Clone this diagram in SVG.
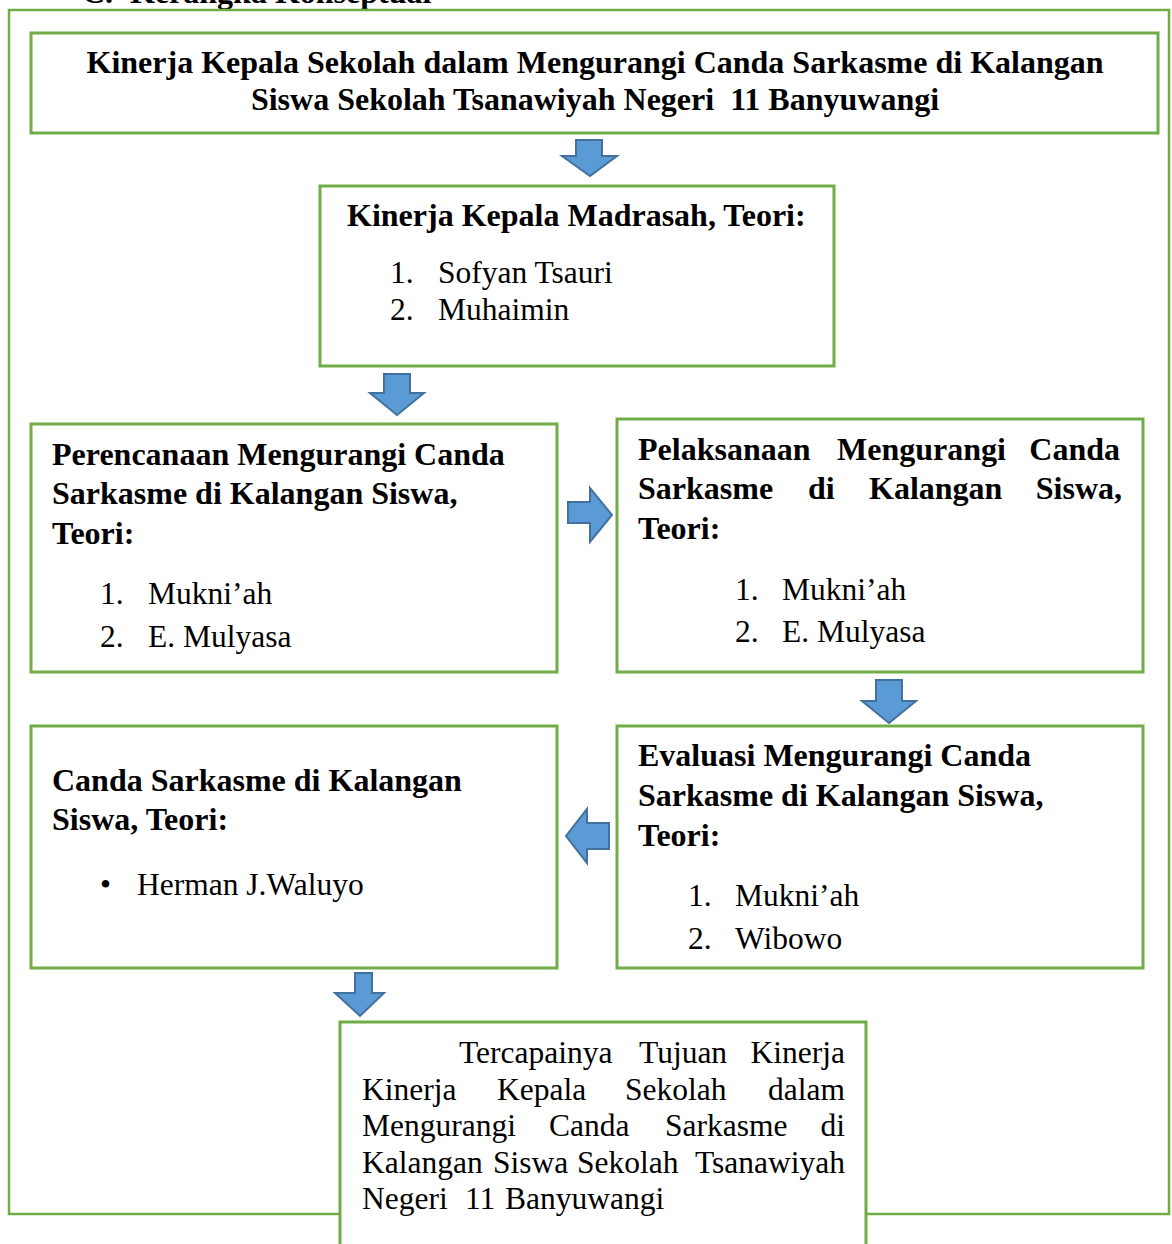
<svg xmlns="http://www.w3.org/2000/svg" width="1172" height="1244" viewBox="0 0 1172 1244">
<defs>
<style>
.box{fill:#fff;stroke:#70AD47;stroke-width:3}
.frame{fill:none;stroke:#70AD47;stroke-width:2.5}
.arr{fill:#5B9BD5;stroke:#41719C;stroke-width:2;stroke-linejoin:miter}
text{font-family:"Liberation Serif","Times New Roman",serif;font-size:31.5px;fill:#000}
.b{font-weight:bold;font-size:32px}
</style>
</defs>
<rect width="1172" height="1244" fill="#fff"/>
<text class="b" y="3"><tspan x="82">C.</tspan><tspan x="130">Kerangka Konseptual</tspan></text>
<path class="frame" d="M340,1214 H9 V10 H1169 V1214 H866"/>

<g id="connectors">
<polygon class="arr" points="576,140 602,140 602,156 617,156 590,176 562,156 576,156"/>
<polygon class="arr" points="384,374 410,374 410,393 424,393 397,415 370,393 384,393"/>
<polygon class="arr" points="568,502 590,502 590,488 612,515 590,542 590,523 568,523"/>
<polygon class="arr" points="876,680 902,680 902,701 916,701 889,723 862,701 876,701"/>
<polygon class="arr" points="609,823 587,823 587,809 566,836 587,863 587,849 609,849"/>
<polygon class="arr" points="355,973 372,973 372,993 384,993 360,1016 335,993 355,993"/>
</g>

<g id="node-title">
<rect class="box" x="31" y="33" width="1127" height="100"/>
<text class="b" x="595" y="73" text-anchor="middle">Kinerja Kepala Sekolah dalam Mengurangi Canda Sarkasme di Kalangan</text>
<text class="b" x="595" y="110" text-anchor="middle" xml:space="preserve">Siswa Sekolah Tsanawiyah Negeri  11 Banyuwangi</text>
</g>

<g id="node-kinerja">
<rect class="box" x="320" y="186" width="514" height="180"/>
<text class="b" x="347" y="226">Kinerja Kepala Madrasah, Teori:</text>
<text x="390" y="283">1.</text><text x="438" y="283">Sofyan Tsauri</text>
<text x="390" y="320">2.</text><text x="438" y="320">Muhaimin</text>
</g>

<g id="node-perencanaan">
<rect class="box" x="31" y="424" width="526" height="248"/>
<text class="b" x="52" y="465">Perencanaan Mengurangi Canda</text>
<text class="b" x="52" y="504">Sarkasme di Kalangan Siswa,</text>
<text class="b" x="52" y="544">Teori:</text>
<text x="100" y="604">1.</text><text x="148" y="604">Mukni’ah</text>
<text x="100" y="647">2.</text><text x="148" y="647">E. Mulyasa</text>
</g>

<g id="node-pelaksanaan">
<rect class="box" x="617" y="419" width="526" height="253"/>
<text class="b" y="460"><tspan x="638">Pelaksanaan</tspan><tspan x="837">Mengurangi</tspan><tspan x="1120" text-anchor="end">Canda</tspan></text>
<text class="b" y="499"><tspan x="638">Sarkasme</tspan><tspan x="808">di</tspan><tspan x="869">Kalangan</tspan><tspan x="1122" text-anchor="end">Siswa,</tspan></text>
<text class="b" x="638" y="539">Teori:</text>
<text x="735" y="600">1.</text><text x="782" y="600">Mukni’ah</text>
<text x="735" y="642">2.</text><text x="782" y="642">E. Mulyasa</text>
</g>

<g id="node-canda">
<rect class="box" x="31" y="726" width="526" height="242"/>
<text class="b" x="52" y="791">Canda Sarkasme di Kalangan</text>
<text class="b" x="52" y="830">Siswa, Teori:</text>
<text x="100" y="895">•</text><text x="137" y="895">Herman J.Waluyo</text>
</g>

<g id="node-evaluasi">
<rect class="box" x="617" y="726" width="526" height="242"/>
<text class="b" x="638" y="766">Evaluasi Mengurangi Canda</text>
<text class="b" x="638" y="806">Sarkasme di Kalangan Siswa,</text>
<text class="b" x="638" y="846">Teori:</text>
<text x="688" y="906">1.</text><text x="735" y="906">Mukni’ah</text>
<text x="688" y="949">2.</text><text x="735" y="949">Wibowo</text>
</g>

<g id="node-tujuan">
<path class="box" d="M340,1250 V1022 H866 V1250"/>
<text y="1063"><tspan x="459">Tercapainya</tspan><tspan x="639">Tujuan</tspan><tspan x="845" text-anchor="end">Kinerja</tspan></text>
<text y="1100"><tspan x="362">Kinerja</tspan><tspan x="497">Kepala</tspan><tspan x="625">Sekolah</tspan><tspan x="845" text-anchor="end">dalam</tspan></text>
<text y="1136"><tspan x="362">Mengurangi</tspan><tspan x="549">Canda</tspan><tspan x="665">Sarkasme</tspan><tspan x="845" text-anchor="end">di</tspan></text>
<text y="1173"><tspan x="362">Kalangan</tspan><tspan x="493">Siswa</tspan><tspan x="577">Sekolah</tspan><tspan x="845" text-anchor="end">Tsanawiyah</tspan></text>
<text y="1209"><tspan x="362">Negeri</tspan><tspan x="465">11</tspan><tspan x="505">Banyuwangi</tspan></text>
</g>
</svg>
